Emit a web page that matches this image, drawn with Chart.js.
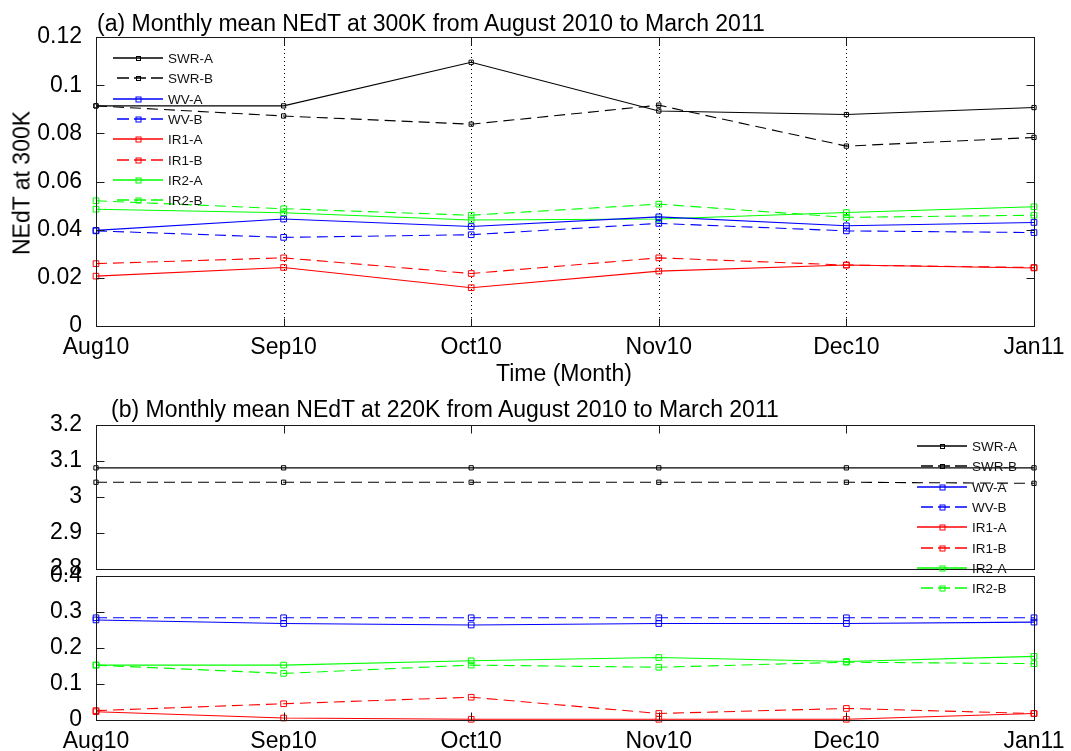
<!DOCTYPE html>
<html><head><meta charset="utf-8">
<script src="https://cdn.jsdelivr.net/npm/chart.js@4.4.0/dist/chart.umd.min.js"></script>
<style>
html,body{margin:0;padding:0;background:#fff;}
#wrap{position:relative;width:1071px;height:751px;overflow:hidden;background:#fff;font-family:"Liberation Sans",Arial,sans-serif;}
canvas{position:absolute;left:0;}
.t{position:absolute;white-space:nowrap;font-size:23px;line-height:23px;color:#000;}
</style></head><body>
<div id="wrap">
<canvas id="c1" width="1071" height="395" style="top:0px;width:1071px;height:395px"></canvas>
<canvas id="c2" width="1071" height="200" style="top:400px;width:1071px;height:200px"></canvas>
<canvas id="c3" width="1071" height="351" style="top:400px;width:1071px;height:351px"></canvas>
<div class="t" style="left:97px;top:12px">(a) Monthly mean NEdT at 300K from August 2010 to March 2011</div>
<div class="t" style="left:564px;top:362px;transform:translateX(-50%)">Time (Month)</div>
<div class="t" style="left:22px;top:183px;transform:translate(-50%,-50%) rotate(-90deg)">NEdT at 300K</div>
<div class="t" style="left:111px;top:398px">(b) Monthly mean NEdT at 220K from August 2010 to March 2011</div>
</div>
<script>
// ---------------- data ----------------
const months = ['Aug10','Sep10','Oct10','Nov10','Dec10','Jan11'];
const seriesNames = ['SWR-A','SWR-B','WV-A','WV-B','IR1-A','IR1-B','IR2-A','IR2-B'];

// (a) NEdT at 300K
const swrA300 = [0.0914, 0.0914, 0.1095, 0.0893, 0.0878, 0.0907];
const swrB300 = [0.0914, 0.0872, 0.0838, 0.0917, 0.0747, 0.0783];
const wvA300  = [0.0397, 0.0444, 0.0413, 0.0453, 0.0416, 0.0430];
const wvB300  = [0.0395, 0.0368, 0.0379, 0.0426, 0.0395, 0.0388];
const ir1A300 = [0.0207, 0.0243, 0.0159, 0.0228, 0.0253, 0.0241];
const ir1B300 = [0.0259, 0.0283, 0.0218, 0.0283, 0.0253, 0.0243];
const ir2A300 = [0.0485, 0.0470, 0.0440, 0.0444, 0.0471, 0.0495];
const ir2B300 = [0.0520, 0.0487, 0.0460, 0.0506, 0.0451, 0.0460];

// (b) NEdT at 220K
const swrA220 = [3.081, 3.081, 3.081, 3.081, 3.081, 3.081];
const swrB220 = [3.041, 3.041, 3.041, 3.041, 3.041, 3.038];
const wvA220  = [0.277, 0.267, 0.263, 0.267, 0.267, 0.271];
const wvB220  = [0.283, 0.283, 0.283, 0.283, 0.283, 0.283];
const ir1A220 = [0.023, 0.0055, 0.002, 0.002, 0.002, 0.018];
const ir1B220 = [0.026, 0.045, 0.063, 0.018, 0.032, 0.018];
const ir2A220 = [0.152, 0.152, 0.164, 0.173, 0.162, 0.176];
const ir2B220 = [0.152, 0.129, 0.152, 0.146, 0.160, 0.156];

// tick values / labels
const yTicksA = [0, 0.02, 0.04, 0.06, 0.08, 0.1, 0.12];
const yLabelsA = ['0','0.02','0.04','0.06','0.08','0.1','0.12'];
const yTicksHigh = [2.8, 2.9, 3.0, 3.1, 3.2];
const yLabelsHigh = ['2.8','2.9','3','3.1','3.2'];
const yTicksLow = [0, 0.1, 0.2, 0.3, 0.4];
const yLabelsLow = ['0','0.1','0.2','0.3','0.4'];

// ---------------- styles ----------------
const seriesColors = ['#000000','#000000','#0000ff','#0000ff','#ff0000','#ff0000','#00ff00','#00ff00'];
const seriesDashed = [false,true,false,true,false,true,false,true];
const DASH = [11,6];
const FONT = '"Liberation Sans", Arial, sans-serif';
Chart.defaults.font.family = FONT;
Chart.defaults.color = '#000';

function ds(idx, data) {
  const c = seriesColors[idx];
  const black = idx < 2;
  return {
    label: seriesNames[idx], data: data,
    borderColor: c, backgroundColor: 'rgba(0,0,0,0)',
    borderWidth: 1.1, borderDash: seriesDashed[idx] ? DASH : [],
    tension: 0, fill: false, clip: 10,
    pointStyle: 'rect', pointRadius: black ? 3 : 4, pointHoverRadius: black ? 3 : 4,
    pointBorderColor: c, pointBackgroundColor: 'rgba(0,0,0,0)', pointBorderWidth: 1
  };
}

const matlabFrame = {
  id: 'matlabFrame',
  beforeDatasetsDraw(chart, args, o) {
    if (!o.dotted) return;
    const ctx = chart.ctx, a = chart.chartArea, x = chart.scales.x;
    ctx.save();
    ctx.strokeStyle = '#000'; ctx.lineWidth = 1; ctx.setLineDash([1,3]);
    for (let i = 1; i < x.ticks.length - 1; i++) {
      const px = Math.round(x.getPixelForTick(i)) + 0.5;
      ctx.beginPath(); ctx.moveTo(px, a.top); ctx.lineTo(px, a.bottom); ctx.stroke();
    }
    ctx.restore();
  },
  afterDraw(chart, args, o) {
    const ctx = chart.ctx, a = chart.chartArea, x = chart.scales.x, y = chart.scales.y;
    const L = Math.round(a.left) + 0.5, R = Math.round(a.right) + 0.5;
    const T = Math.round(a.top) + 0.5, B = Math.round(a.bottom) + 0.5;
    ctx.save();
    ctx.strokeStyle = '#1a1a1a'; ctx.lineWidth = 1; ctx.setLineDash([]);
    ctx.strokeRect(L, T, R - L, B - T);
    const tl = 8;
    ctx.beginPath();
    for (let i = 0; i < x.ticks.length; i++) {
      const px = Math.round(x.getPixelForTick(i)) + 0.5;
      if (o.xTop) { ctx.moveTo(px, T); ctx.lineTo(px, T + tl); }
      if (o.xBottom) { ctx.moveTo(px, B); ctx.lineTo(px, B - tl); }
    }
    y.ticks.forEach(t => {
      const py = Math.round(y.getPixelForValue(t.value)) + 0.5;
      if (o.yLeft) { ctx.moveTo(L, py); ctx.lineTo(L + tl, py); }
      if (o.yRight) { ctx.moveTo(R, py); ctx.lineTo(R - tl, py); }
    });
    ctx.stroke();
    const lg = o.legend;
    if (lg) {
      ctx.font = '13.5px ' + FONT;
      ctx.textBaseline = 'middle'; ctx.textAlign = 'left';
      seriesNames.forEach((name, i) => {
        const yy = Math.round(lg.y + i * lg.dy);
        const c = seriesColors[i];
        ctx.strokeStyle = c; ctx.lineWidth = 1.3;
        ctx.setLineDash(seriesDashed[i] ? [12,5] : []);
        ctx.lineDashOffset = seriesDashed[i] ? -4 : 0;
        ctx.beginPath(); ctx.moveTo(lg.x, yy); ctx.lineTo(lg.x + 50, yy); ctx.stroke();
        ctx.setLineDash([]); ctx.lineDashOffset = 0; ctx.lineWidth = 1;
        const s = i < 2 ? 4 : 5;
        const mx = Math.round(lg.x + 25) + 0.5;
        ctx.strokeRect(mx - s / 2, yy + 0.5 - s / 2, s, s);
        ctx.fillStyle = '#111';
        ctx.fillText(name, lg.x + 55, yy + 1);
      });
    }
    ctx.restore();
  }
};

function xAxis(show, h) {
  return {
    type: 'category', offset: false, display: show,
    grid: { display: false }, border: { display: false },
    ticks: { font: { size: 23, lineHeight: 1.2 }, color: '#000', padding: 0, maxRotation: 0, autoSkip: false },
    afterFit(s) { s.height = h; }
  };
}
function yAxis(mn, mx, vals, labels) {
  return {
    min: mn, max: mx,
    grid: { display: false }, border: { display: false },
    afterBuildTicks(s) { s.ticks = vals.map(v => ({ value: v })); },
    ticks: { font: { size: 23, lineHeight: 1.2 }, color: '#000', padding: 6,
      callback: (v, i) => labels[i] },
    afterFit(s) { s.width = 96; }
  };
}
function baseOpts(pad, xA, yA, frameOpts) {
  return {
    responsive: false, devicePixelRatio: 1, animation: false,
    layout: { padding: pad },
    plugins: { legend: { display: false }, title: { display: false }, tooltip: { enabled: false }, matlabFrame: frameOpts },
    events: [],
    scales: { x: xA, y: yA }
  };
}

// (a) panel
new Chart(document.getElementById('c1'), {
  type: 'line',
  data: { labels: months, datasets: [
    ds(0, swrA300), ds(1, swrB300), ds(2, wvA300), ds(3, wvB300),
    ds(4, ir1A300), ds(5, ir1B300), ds(6, ir2A300), ds(7, ir2B300)
  ]},
  options: baseOpts({ left: 0, right: 37, top: 37, bottom: 0 },
    xAxis(true, 69), yAxis(0, 0.12, yTicksA, yLabelsA),
    { dotted: true, xTop: true, xBottom: true, yLeft: true, yRight: true,
      legend: { x: 113, y: 58, dy: 20.3 } }),
  plugins: [matlabFrame]
});

// (b) upper part of broken axis
new Chart(document.getElementById('c2'), {
  type: 'line',
  data: { labels: months, datasets: [ ds(0, swrA220), ds(1, swrB220) ] },
  options: baseOpts({ left: 0, right: 37, top: 25, bottom: 31 },
    xAxis(false, 0), yAxis(2.8, 3.2, yTicksHigh, yLabelsHigh),
    { dotted: false, xTop: true, xBottom: false, yLeft: true, yRight: false }),
  plugins: [matlabFrame]
});

// (b) lower part of broken axis
new Chart(document.getElementById('c3'), {
  type: 'line',
  data: { labels: months, datasets: [
    ds(2, wvA220), ds(3, wvB220), ds(4, ir1A220), ds(5, ir1B220), ds(6, ir2A220), ds(7, ir2B220)
  ]},
  options: baseOpts({ left: 0, right: 37, top: 175.5, bottom: 0 },
    xAxis(true, 31), yAxis(0, 0.4, yTicksLow, yLabelsLow),
    { dotted: false, xTop: false, xBottom: true, yLeft: true, yRight: false,
      legend: { x: 917, y: 46, dy: 20.3 } }),
  plugins: [matlabFrame]
});
</script>
</body></html>
